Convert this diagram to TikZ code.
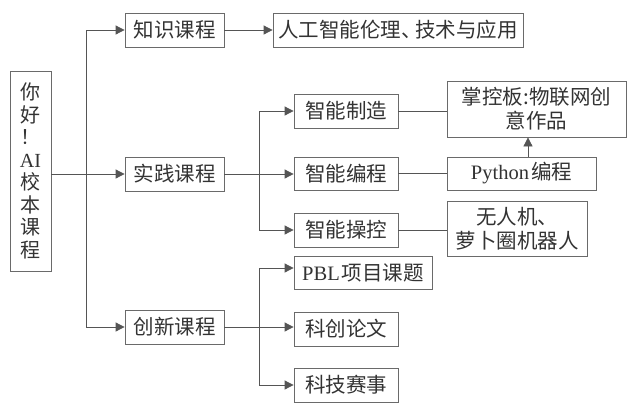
\documentclass[tikz,border=0pt]{standalone}
\usepackage{fontspec}
\setmainfont{Liberation Serif}
\newfontfamily\cjk{Noto Sans CJK SC}
\newfontfamily\lat{Liberation Serif}
\usetikzlibrary{arrows.meta}
\definecolor{boxc}{HTML}{6A6A6A}
\definecolor{linec}{HTML}{555555}
\definecolor{txtc}{HTML}{333333}
\begin{document}
\begin{tikzpicture}[x=1pt,y=-1pt,
  bx/.style={draw=boxc,line width=0.8pt,inner sep=0pt,text=txtc,font=\cjk\fontsize{20.5}{24}\selectfont,align=center},
  ln/.style={draw=linec,line width=0.8pt},
  arr/.style={ln,-{Triangle[length=9pt,width=9pt]}}]
\useasboundingbox (0,0) rectangle (627,405);
\fill[white] (0,0) rectangle (627,405);
% nodes
\node[bx,minimum width=41pt,minimum height=200pt,font=\cjk\fontsize{20}{22.5}\selectfont] (root) at (30.5,171) {你\\好\\！\\{\lat AI}\\校\\本\\课\\程};
\node[bx,minimum width=99pt,minimum height=34pt] (k1) at (174.5,30) {知识课程};
\node[bx,minimum width=250pt,minimum height=34pt] (k1a) at (398,30) {人工智能伦理、\kern-0.3em技术与应用};
\node[bx,minimum width=99pt,minimum height=34pt] (k2) at (174.5,174) {实践课程};
\node[bx,minimum width=99pt,minimum height=34pt] (k3) at (174.5,327) {创新课程};
\node[bx,minimum width=104pt,minimum height=34pt] (z1) at (346,111) {智能制造};
\node[bx,minimum width=104pt,minimum height=33pt] (z2) at (346,173.5) {智能编程};
\node[bx,minimum width=104pt,minimum height=34pt] (z3) at (346,230) {智能操控};
\node[bx,minimum width=179pt,minimum height=56pt] (m1) at (536.5,109) {掌控板:物联网创\\意作品};
\node[bx,minimum width=149pt,minimum height=33pt] (m2) at (521.5,173.5) {{\lat Python}\kern2pt编程};
\node[bx,minimum width=140pt,minimum height=55pt] (m3) at (517,228.5) {无人机、\\萝卜圈机器人};
\node[bx,minimum width=138pt,minimum height=33pt] (p1) at (363,272.5) {{\lat PBL}\kern2pt项目课题};
\node[bx,minimum width=104pt,minimum height=34pt] (p2) at (346,329) {科创论文};
\node[bx,minimum width=104pt,minimum height=34pt] (p3) at (346,385) {科技赛事};
% trunk coordinates
\coordinate (t1) at (86,0);
\coordinate (t2) at (259,0);
% connectors
\draw[arr] (root.east |- k2.west) -- (k2.west);
\draw[ln] (t1 |- k1.west) -- (t1 |- k3.west);
\draw[arr] (t1 |- k1.west) -- (k1.west);
\draw[arr] (t1 |- k3.west) -- (k3.west);
\draw[arr] (k1.east) -- (k1a.west);
\draw[arr] (k2.east) -- (z2.west |- k2.east);
\draw[ln] (t2 |- z1.west) -- (t2 |- z3.west);
\draw[arr] (t2 |- z1.west) -- (z1.west);
\draw[arr] (t2 |- z3.west) -- (z3.west);
\draw[arr] (k3.east) -- (p2.west |- k3.east);
\draw[ln] (t2 |- 0,268) -- (t2 |- p3.west);
\draw[arr] (t2 |- 0,268) -- (p1.west |- 0,268);
\draw[arr] (t2 |- p3.west) -- (p3.west);
\draw[ln] (z1.east) -- (z1.east -| m1.west);
\draw[ln] (z2.east) -- (m2.west);
\draw[ln] (z3.east) -- (z3.east -| m3.west);
\draw[arr] ([xshift=6.5pt]m2.north) -- ([xshift=6.5pt]m2.north |- m1.south);
\end{tikzpicture}
\end{document}
